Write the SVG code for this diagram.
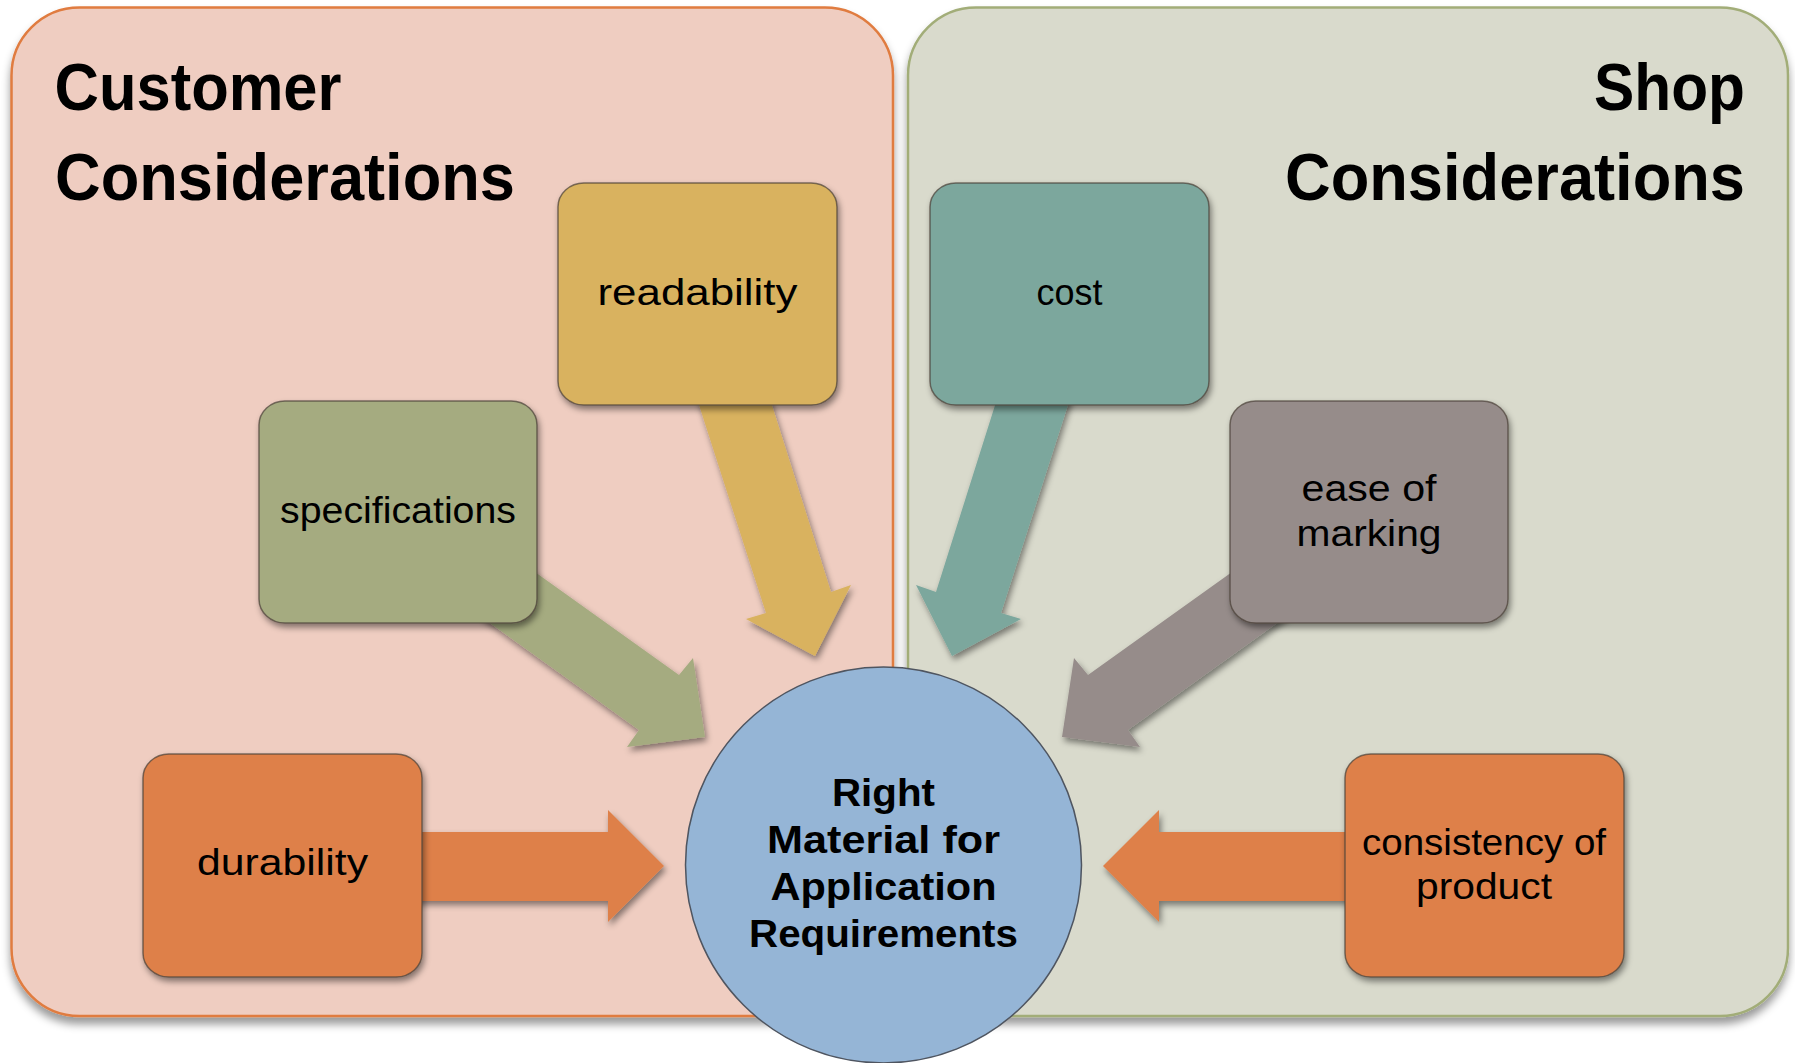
<svg xmlns="http://www.w3.org/2000/svg" width="1795" height="1063" viewBox="0 0 1795 1063">
  <defs>
    <filter id="panelShadow" x="-5%" y="-5%" width="110%" height="112%">
      <feDropShadow dx="0" dy="7" stdDeviation="4" flood-color="#000" flood-opacity="0.4"/>
    </filter>
    <filter id="boxShadow" x="-10%" y="-10%" width="125%" height="130%">
      <feDropShadow dx="2" dy="4" stdDeviation="3" flood-color="#000" flood-opacity="0.45"/>
    </filter>
    <style>
      .panel-title { font-family: "Liberation Sans", Arial, sans-serif; font-weight: bold; font-size: 67px; fill: #000; }
      .label { font-family: "Liberation Sans", Arial, sans-serif; font-size: 37px; fill: #000; text-anchor: middle; }
      .hub-label { font-family: "Liberation Sans", Arial, sans-serif; font-weight: bold; font-size: 39px; fill: #000; text-anchor: middle; }
      .box { stroke: #4a4038; stroke-opacity: 0.7; stroke-width: 1.5; filter: url(#boxShadow); }
      .arrow { filter: url(#boxShadow); }
    </style>
  </defs>

  <rect width="1795" height="1063" fill="#ffffff"/>

  <!-- background panels -->
  <g id="panel-customer">
    <rect x="11.5" y="7.5" width="881.5" height="1008.5" rx="68" ry="68" fill="#EFCDC1" stroke="#E07B3F" stroke-width="2.5" filter="url(#panelShadow)"/>
    <text class="panel-title" x="54.5" y="110" textLength="287" lengthAdjust="spacingAndGlyphs">Customer</text>
    <text class="panel-title" x="55" y="200" textLength="460" lengthAdjust="spacingAndGlyphs">Considerations</text>
  </g>
  <g id="panel-shop">
    <rect x="908" y="7.5" width="880" height="1008.5" rx="68" ry="68" fill="#D9DACC" stroke="#A2AD78" stroke-width="2.5" filter="url(#panelShadow)"/>
    <text class="panel-title" x="1745" y="110" text-anchor="end" textLength="151" lengthAdjust="spacingAndGlyphs">Shop</text>
    <text class="panel-title" x="1745" y="200" text-anchor="end" textLength="460" lengthAdjust="spacingAndGlyphs">Considerations</text>
  </g>

  <!-- block arrows pointing to the central requirement -->
  <g id="connectors">
    <polygon class="arrow" fill="#D9B25E" points="691,380 764,380 831,592 851,585 815,656 746,619 766,613"/>
    <polygon class="arrow" fill="#A5AB80" points="500,547 679,675 693,658 705,737 627,747 639,730 480,616"/>
    <polygon class="arrow" fill="#DE8048" points="410,832 608,832 608,810 664,866 608,922 608,901 410,901"/>
    <polygon class="arrow" fill="#7BA79D" points="1076,380 1003,380 936,592 916,585 952,656 1021,619 1001,613"/>
    <polygon class="arrow" fill="#968C8A" points="1267,547 1088,675 1074,658 1062,737 1140,747 1128,730 1287,616"/>
    <polygon class="arrow" fill="#DE8048" points="1357,832 1159,832 1159,810 1103,866 1159,922 1159,901 1357,901"/>
  </g>

  <!-- customer-side factors -->
  <g id="node-readability">
    <rect class="box" x="558" y="183" width="279" height="222" rx="26" ry="24" fill="#D9B25E"/>
    <text class="label" x="697.5" y="305" textLength="200" lengthAdjust="spacingAndGlyphs">readability</text>
  </g>
  <g id="node-specifications">
    <rect class="box" x="259" y="401" width="278" height="222" rx="26" ry="24" fill="#A5AB80"/>
    <text class="label" x="398" y="523" textLength="236" lengthAdjust="spacingAndGlyphs">specifications</text>
  </g>
  <g id="node-durability">
    <rect class="box" x="143" y="754" width="279" height="223" rx="26" ry="24" fill="#DE8048"/>
    <text class="label" x="282.5" y="875" textLength="171" lengthAdjust="spacingAndGlyphs">durability</text>
  </g>

  <!-- shop-side factors -->
  <g id="node-cost">
    <rect class="box" x="930" y="183" width="279" height="222" rx="26" ry="24" fill="#7BA79D"/>
    <text class="label" x="1069.5" y="305" textLength="66" lengthAdjust="spacingAndGlyphs">cost</text>
  </g>
  <g id="node-ease-of-marking">
    <rect class="box" x="1230" y="401" width="278" height="222" rx="26" ry="24" fill="#968C8A"/>
    <text class="label" x="1369" y="501" textLength="135" lengthAdjust="spacingAndGlyphs">ease of</text>
    <text class="label" x="1369" y="546" textLength="145" lengthAdjust="spacingAndGlyphs">marking</text>
  </g>
  <g id="node-consistency">
    <rect class="box" x="1345" y="754" width="279" height="223" rx="26" ry="24" fill="#DE8048"/>
    <text class="label" x="1484" y="855" textLength="244" lengthAdjust="spacingAndGlyphs">consistency of</text>
    <text class="label" x="1484" y="899" textLength="136" lengthAdjust="spacingAndGlyphs">product</text>
  </g>

  <!-- central goal -->
  <g id="node-right-material">
    <circle cx="883.5" cy="865" r="198" fill="#95B5D6" stroke="#4f5560" stroke-width="1.5"/>
    <text class="hub-label" x="883.5" y="806" textLength="103" lengthAdjust="spacingAndGlyphs">Right</text>
    <text class="hub-label" x="883.5" y="853" textLength="233" lengthAdjust="spacingAndGlyphs">Material for</text>
    <text class="hub-label" x="883.5" y="900" textLength="226" lengthAdjust="spacingAndGlyphs">Application</text>
    <text class="hub-label" x="883.5" y="947" textLength="269" lengthAdjust="spacingAndGlyphs">Requirements</text>
  </g>
</svg>
